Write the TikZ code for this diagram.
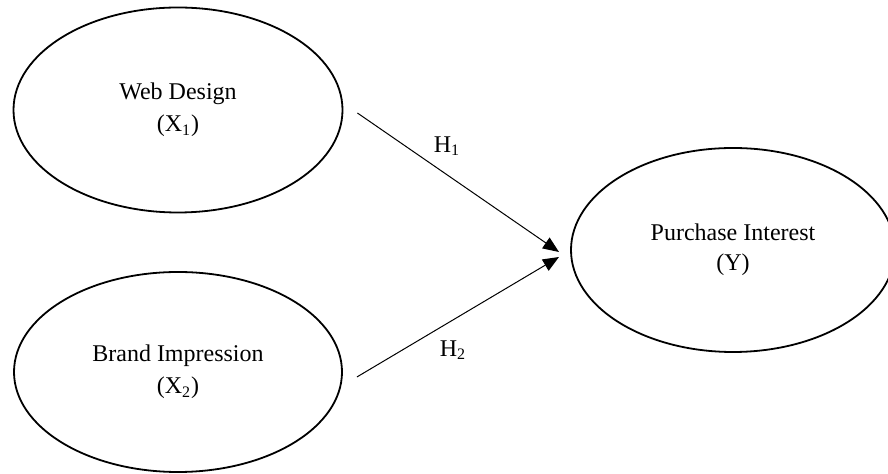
\documentclass[tikz,border=0pt]{standalone}
\usepackage{fontspec}
\setmainfont{Liberation Serif}
\usetikzlibrary{shapes.geometric,arrows.meta}
\begin{document}
\begin{tikzpicture}[x=0.5pt,y=-0.5pt,
  var/.style={ellipse,draw,line width=0.9pt,inner sep=0pt,align=center,
    font=\fontsize{12}{16}\selectfont},
  link/.style={line width=0.5pt,-{Triangle[length=8pt,width=6.5pt]}},
  hyp/.style={font=\fontsize{12}{14}\selectfont}]
\useasboundingbox (0,0) rectangle (888,474);
\node[var,minimum width=164.5pt,minimum height=102.5pt] (wd) at (178,110) {Web Design\\(X\textsubscript{1})};
\node[var,minimum width=164pt,minimum height=100pt] (bi) at (178,372) {Brand Impression\\(X\textsubscript{2})};
\node[var,minimum width=162pt,minimum height=102pt,
  font=\fontsize{12}{15}\selectfont] (pi) at (733,250) {Purchase Interest\\(Y)};
\coordinate (h1end) at (559,252);
\coordinate (h2end) at (559,257);
% paths into purchase interest
\draw[link] ([xshift=7pt,yshift=-1.5pt]wd.east) -- (h1end);
\draw[link] ([xshift=7pt,yshift=-2.5pt]bi.east) -- (h2end);
\node[hyp] (h1) at (447,146) {H\textsubscript{1}};
\node[hyp] (h2) at (453,350) {H\textsubscript{2}};
\end{tikzpicture}
\end{document}
